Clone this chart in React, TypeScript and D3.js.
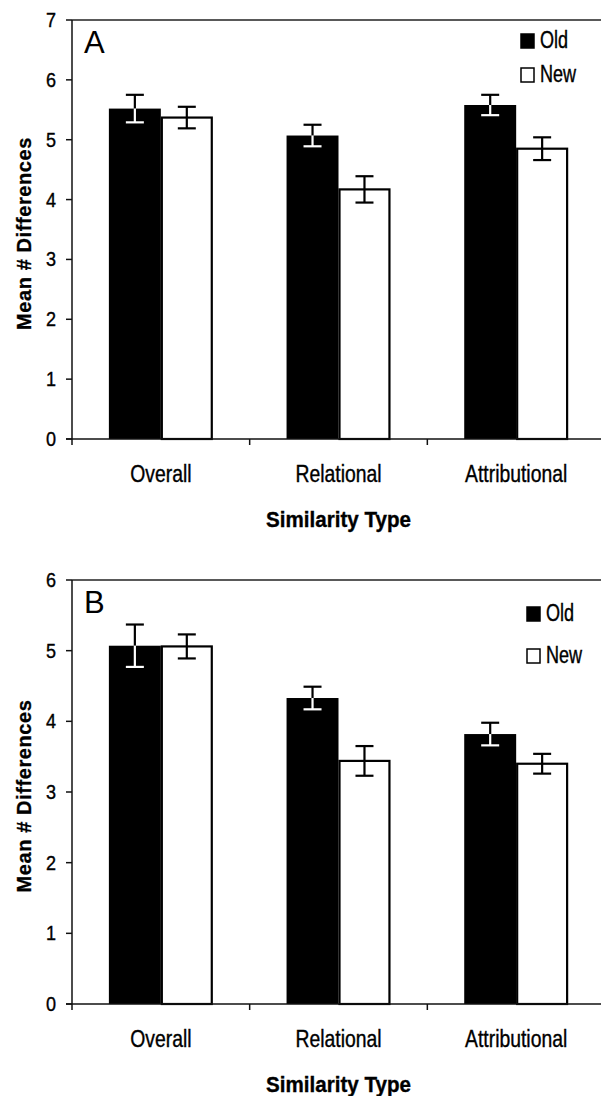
import React from 'react';
import { scaleBand, scaleLinear } from 'd3';

const categories = ['Overall', 'Relational', 'Attributional'];
const seriesNames = ['Old', 'New'];

const oldA = [5.52, 5.07, 5.58];
const oldErrA = [0.23, 0.18, 0.17];
const newA = [5.37, 4.17, 4.85];
const newErrA = [0.18, 0.22, 0.19];

const oldB = [5.07, 4.33, 3.82];
const oldErrB = [0.3, 0.16, 0.16];
const newB = [5.06, 3.44, 3.4];
const newErrB = [0.17, 0.21, 0.14];

const ticksA = [0, 1, 2, 3, 4, 5, 6, 7];
const ticksB = [0, 1, 2, 3, 4, 5, 6];

const FONT = '"Liberation Sans", Arial, Helvetica, sans-serif';

// scanned figure text is a bit narrow and tall, slightly heavy
const Txt = ({ x, y, sx = 0.9, sy = 1.08, size = 20, anchor = 'start', bold = false, children }: any) => (
  <text
    transform={`translate(${x},${y}) scale(${sx},${sy})`}
    textAnchor={anchor}
    fontFamily={FONT}
    fontSize={size}
    fontWeight={bold ? 'bold' : 'normal'}
    fill="#000"
    stroke="#000"
    strokeWidth={0.35}
  >
    {children}
  </text>
);

const Panel = ({ label, oldVals, oldErr, newVals, newErr, ticks, top, bottom, legendX, legendY, legendGap }: any) => {
  const left = 72;
  const right = 605;
  const yMax = ticks[ticks.length - 1];
  const y = scaleLinear().domain([0, yMax]).range([bottom, top]);
  const x0 = scaleBand().domain(categories).range([left, right]).padding(0);
  const x1 = scaleBand().domain(seriesNames).range([0, x0.bandwidth()]).paddingInner(0).paddingOuter(0.71);
  const bw = x1.bandwidth();

  const rows = categories.map((c, i) => [
    { c, s: 'Old', v: oldVals[i], e: oldErr[i] },
    { c, s: 'New', v: newVals[i], e: newErr[i] },
  ]).flat();

  return (
    <g>
      {/* bars */}
      {rows.map((d, i) => {
        const bx = (x0(d.c) as number) + (x1(d.s) as number);
        return d.s === 'Old' ? (
          <rect key={i} x={bx} y={y(d.v)} width={bw} height={bottom - y(d.v)} fill="#000" />
        ) : (
          <rect key={i} x={bx + 1} y={y(d.v)} width={bw - 2} height={bottom - y(d.v)} fill="#fff" stroke="#000" strokeWidth={2.2} />
        );
      })}
      {/* error bars */}
      {rows.map((d, i) => {
        const cx = (x0(d.c) as number) + (x1(d.s) as number) + bw / 2;
        const low = d.s === 'Old' ? '#fff' : '#000';
        return (
          <g key={'e' + i} strokeWidth={2.2}>
            <line x1={cx} x2={cx} y1={y(d.v + d.e)} y2={y(d.v)} stroke="#000" />
            <line x1={cx - 9} x2={cx + 9} y1={y(d.v + d.e)} y2={y(d.v + d.e)} stroke="#000" />
            <line x1={cx} x2={cx} y1={y(d.v)} y2={y(d.v - d.e)} stroke={low} />
            <line x1={cx - 9} x2={cx + 9} y1={y(d.v - d.e)} y2={y(d.v - d.e)} stroke={low} />
          </g>
        );
      })}
      {/* frame */}
      <line x1={left} x2={601} y1={top} y2={top} stroke="#222" strokeWidth={1.5} />
      <line x1={left} x2={left} y1={top} y2={bottom} stroke="#111" strokeWidth={1.5} />
      <line x1={left - 6} x2={601} y1={bottom} y2={bottom} stroke="#111" strokeWidth={1.5} />
      {/* y ticks */}
      {ticks.map((t: number) => (
        <g key={t}>
          <line x1={left - 6} x2={left} y1={y(t)} y2={y(t)} stroke="#111" strokeWidth={1.5} />
          <Txt x={56} y={y(t) + 7} size={19} anchor="end" sx={0.95} sy={1.05}>{t}</Txt>
        </g>
      ))}
      {/* category ticks */}
      {categories.map((c) => (
        <line key={c} x1={x0(c)} x2={x0(c)} y1={bottom} y2={bottom + 6} stroke="#111" strokeWidth={1.5} />
      ))}
      {categories.map((c) => (
        <Txt key={'l' + c} x={(x0(c) as number) + x0.bandwidth() / 2} y={bottom + 43} size={22} anchor="middle" sx={0.88} sy={1.1}>
          {c}
        </Txt>
      ))}
      <Txt x={(left + right) / 2} y={bottom + 88} size={21} anchor="middle" bold sx={0.98} sy={1.08}>
        Similarity Type
      </Txt>
      <text
        transform={`translate(31,${(top + bottom) / 2 + 4}) rotate(-90) scale(1,1.05)`}
        textAnchor="middle"
        fontFamily={FONT}
        fontSize={20}
        fontWeight="bold"
        letterSpacing={0.6}
        stroke="#000"
        strokeWidth={0.3}
      >
        Mean # Differences
      </text>
      {/* panel letter */}
      <text x={left + 12} y={top + 33} fontFamily={FONT} fontSize={31}>{label}</text>
      {/* legend */}
      {seriesNames.map((s, i) => (
        <g key={s}>
          <rect
            x={legendX + 1}
            y={legendY + i * legendGap - 14}
            width={13}
            height={14}
            fill={s === 'Old' ? '#000' : '#fff'}
            stroke="#000"
            strokeWidth={1.5}
          />
          <Txt x={legendX + 20} y={legendY + i * legendGap} size={21} sx={0.86} sy={1.1}>{s}</Txt>
        </g>
      ))}
    </g>
  );
};

export default function App() {
  return (
    <svg width={601} height={1096} style={{ position: 'absolute', left: 0, top: 0, background: '#fff' }}>
      <rect width={601} height={1096} fill="#fff" />
      <Panel
        label="A"
        oldVals={oldA}
        oldErr={oldErrA}
        newVals={newA}
        newErr={newErrA}
        ticks={ticksA}
        top={20}
        bottom={439}
        legendX={520}
        legendY={48}
        legendGap={34}
      />
      <Panel
        label="B"
        oldVals={oldB}
        oldErr={oldErrB}
        newVals={newB}
        newErr={newErrB}
        ticks={ticksB}
        top={580}
        bottom={1004}
        legendX={526}
        legendY={621}
        legendGap={42}
      />
    </svg>
  );
}
